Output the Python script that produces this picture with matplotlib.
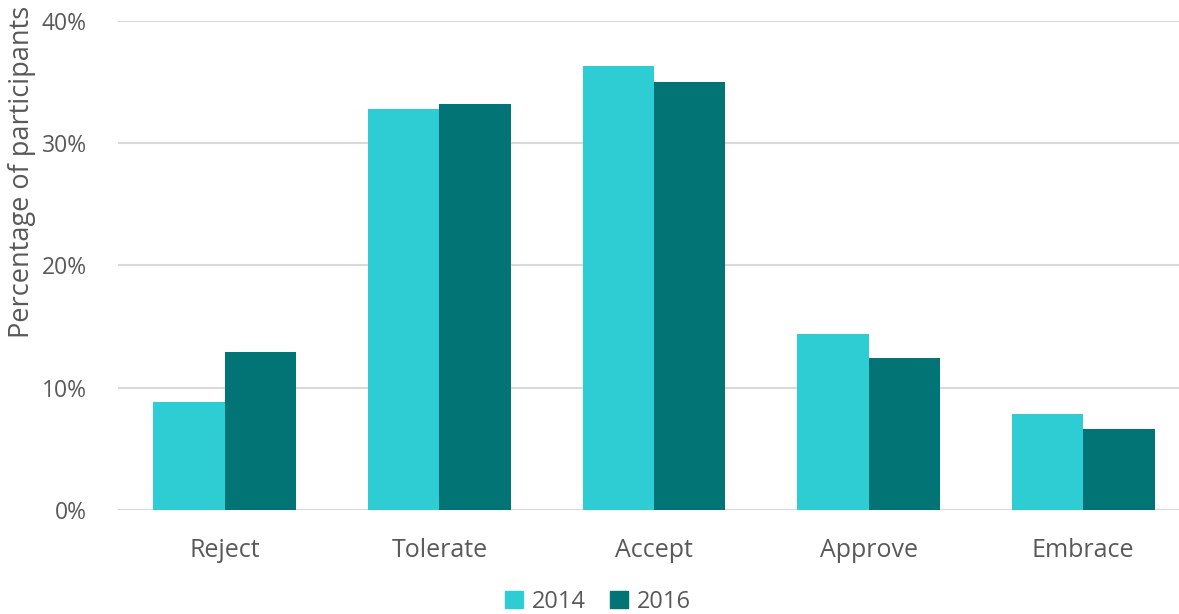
import matplotlib
matplotlib.use("Agg")
import matplotlib.pyplot as plt
import numpy as np
from matplotlib.patches import Patch

categories = ["Reject", "Tolerate", "Accept", "Approve", "Embrace"]
series_names = ["2014", "2016"]
values_2014 = [8.8, 32.8, 36.3, 14.4, 7.85]
values_2016 = [12.9, 33.2, 35.0, 12.4, 6.6]
yticks = [0, 10, 20, 30, 40]
ytick_labels = ["0%", "10%", "20%", "30%", "40%"]

c2014 = "#2ECDD3"
c2016 = "#027475"
txt = "#595959"

plt.rcParams['font.family'] = ['Open Sans', 'DejaVu Sans']

W, H = 1179, 614
fig = plt.figure(figsize=(W/100, H/100), dpi=100)
left, right, bottom, top = 117.5, 1179, 510, 20.7
ax = fig.add_axes([left/W, 1 - bottom/H, (right-left)/W, (bottom-top)/H])

x = np.arange(len(categories))
bw = 0.333
ax.bar(x - bw/2, values_2014, bw, color=c2014, zorder=3)
ax.bar(x + bw/2, values_2016, bw, color=c2016, zorder=3)

spacing = 214.6
ax.set_xlim(-0.5, -0.5 + (right-left)/spacing)
ax.set_ylim(0, 40)
ax.set_yticks(yticks)
ax.set_yticklabels(ytick_labels)
ax.set_xticks(x)
ax.set_xticklabels(categories)
ax.grid(axis='y', color='#D9D9D9', linewidth=1.5, zorder=0)
for s in ax.spines.values():
    s.set_visible(False)
ax.tick_params(axis='both', length=0, labelcolor=txt)
ax.tick_params(axis='y', pad=22, labelsize=16.5)
ax.tick_params(axis='x', pad=20, labelsize=18)

fig.text(22/W, 1 - 172/H, "Percentage of participants", rotation=90,
         ha='center', va='center', fontsize=19.5, color=txt)

handles = [Patch(color=c2014, label=series_names[0]), Patch(color=c2016, label=series_names[1])]
fig.legend(handles=handles, loc='center', bbox_to_anchor=(598/W, 1 - 602/H), ncol=2,
           frameon=False, fontsize=17, labelcolor=txt, handlelength=0.75, handleheight=0.75,
           handletextpad=0.4, columnspacing=1.0, borderpad=0)

fig.savefig("out.png", dpi=100)
